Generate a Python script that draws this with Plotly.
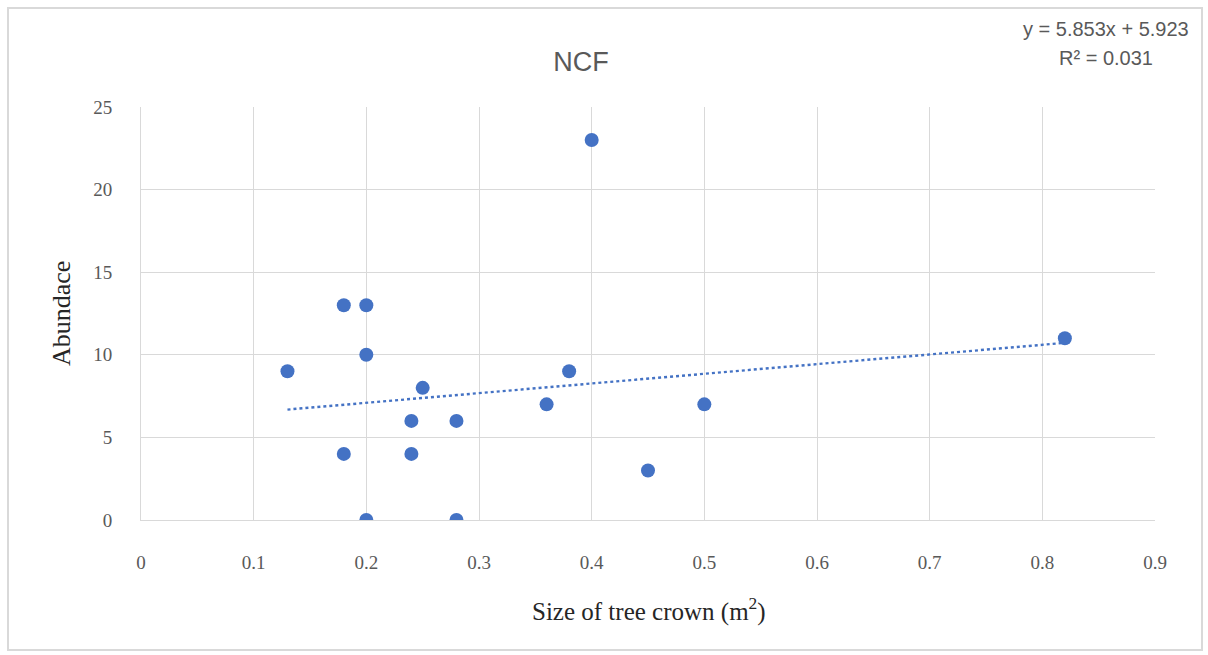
import plotly.graph_objects as go

# Data
crown_size = [0.13, 0.18, 0.20, 0.20, 0.18, 0.20, 0.24, 0.24, 0.25, 0.28, 0.28, 0.36, 0.38, 0.40, 0.45, 0.50, 0.82]
abundance = [9, 13, 13, 10, 4, 0, 6, 4, 8, 6, 0, 7, 9, 23, 3, 7, 11]
slope = 5.853
intercept = 5.923
r_squared = 0.031
x_ticks = [0, 0.1, 0.2, 0.3, 0.4, 0.5, 0.6, 0.7, 0.8, 0.9]
x_tick_labels = ["0", "0.1", "0.2", "0.3", "0.4", "0.5", "0.6", "0.7", "0.8", "0.9"]
y_ticks = [0, 5, 10, 15, 20, 25]

W, H = 1208, 655
L, R, T, B = 141, 53, 107, 135
pw = W - L - R
ph = H - T - B

def px_x(p):
    return (p - L) / pw

def px_y(p):
    return (H - B - p) / ph

trend_x = [min(crown_size), max(crown_size)]
trend_y = [slope * v + intercept for v in trend_x]

fig = go.Figure()
fig.add_trace(go.Scatter(
    x=trend_x, y=trend_y, mode="lines",
    line=dict(color="#4472C4", width=2.4, dash="dot"),
    hoverinfo="skip", showlegend=False,
))
fig.add_trace(go.Scatter(
    x=crown_size, y=abundance, mode="markers",
    marker=dict(color="#4472C4", size=14, line=dict(width=0)),
    showlegend=False,
))

serif = "Liberation Serif, Times New Roman, serif"
sans = "Liberation Sans, Arial, sans-serif"
axis_font = dict(family=serif, size=19, color="#595959")

fig.update_layout(
    width=W, height=H,
    margin=dict(l=L, r=R, t=T, b=B),
    paper_bgcolor="white", plot_bgcolor="white",
    title=dict(text="NCF", x=581 / W, xanchor="center",
               y=1 - 62 / H, yanchor="middle",
               font=dict(family=sans, size=27, color="#595959")),
    xaxis=dict(range=[0, 0.9], tickvals=x_ticks, ticktext=x_tick_labels,
               showgrid=True, gridcolor="#D9D9D9", gridwidth=1,
               zeroline=False, showline=True, linecolor="#D9D9D9",
               ticks="", tickfont=axis_font, ticklabelstandoff=25),
    yaxis=dict(range=[0, 25], tickvals=y_ticks,
               showgrid=True, gridcolor="#D9D9D9", gridwidth=1,
               zeroline=False, showline=True, linecolor="#D9D9D9",
               ticks="", tickfont=axis_font, ticklabelstandoff=24),
)

# Axis titles
fig.add_annotation(xref="paper", yref="paper", x=px_x(649), y=px_y(609),
                   text="Size of tree crown (m<sup>2</sup>)", showarrow=False,
                   xanchor="center", yanchor="middle",
                   font=dict(family=serif, size=25, color="#262626"))
fig.add_annotation(xref="paper", yref="paper", x=px_x(61), y=px_y(314),
                   text="Abundace", showarrow=False, textangle=-90,
                   xanchor="center", yanchor="middle",
                   font=dict(family=serif, size=26, color="#262626"))

# Outer chart border
fig.add_shape(type="rect", xref="paper", yref="paper",
              x0=px_x(8), x1=px_x(1202), y0=px_y(650), y1=px_y(8),
              line=dict(color="#D9D9D9", width=2), fillcolor="rgba(0,0,0,0)", layer="below")

# Trendline equation
fig.add_annotation(xref="paper", yref="paper", x=px_x(1106), y=px_y(29),
                   text=f"y = {slope}x + {intercept}", showarrow=False,
                   xanchor="center", yanchor="middle",
                   font=dict(family=sans, size=20, color="#595959"))
fig.add_annotation(xref="paper", yref="paper", x=px_x(1106), y=px_y(58),
                   text=f"R² = {r_squared}", showarrow=False,
                   xanchor="center", yanchor="middle",
                   font=dict(family=sans, size=20, color="#595959"))

fig.write_html("out.html")
